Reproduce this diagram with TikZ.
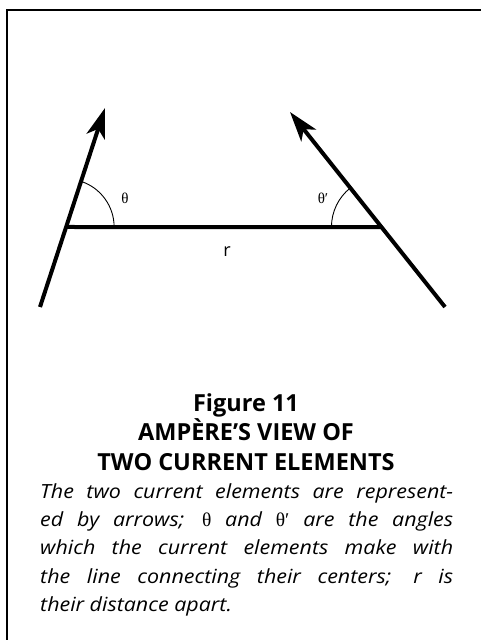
\documentclass[tikz,border=0pt]{standalone}
\usepackage{fontspec}
\setmainfont{Open Sans}
\newfontfamily\bodyfont[FakeStretch=1.1]{Open Sans}
\newfontfamily\grk{Liberation Serif}
\usetikzlibrary{arrows.meta,calc}
\tikzset{
  elem/.style={line width=4pt,-{Stealth[length=30pt,width=19pt,inset=8pt]}},
  rline/.style={line width=4pt},
  anglearc/.style={line width=0.9pt},
  caplabel/.style={anchor=base,inner sep=0pt,font=\bfseries\fontsize{23.5}{28}\selectfont},
  bodyline/.style={anchor=base west,inner sep=0pt,font=\bodyfont\itshape\fontsize{19.5}{28}\selectfont},
  glabel/.style={inner sep=0pt,font=\grk\fontsize{15}{18}\selectfont},
}
\begin{document}
\begin{tikzpicture}[x=1pt,y=1pt]
\useasboundingbox (0,0) rectangle (481,640);
\clip (0,0) rectangle (481,640);
\draw[line width=2.2pt] (7,630) rectangle (530,-30);

\coordinate (b1) at (40,333);
\coordinate (t1) at (105,532);
\coordinate (J1) at ($(b1)!0.402!(t1)$);
\coordinate (b2) at (445,333);
\coordinate (t2) at (290,528);
\coordinate (J2) at ($(b2)!0.41!(t2)$);

\draw[elem] (b1) -- (t1);
\draw[elem] (b2) -- (t2);
\draw[rline] (J1) -- (J2);
\draw[anglearc] ($(J1)+(48,0)$) arc[start angle=0,end angle=71.9,radius=48];
\draw[anglearc] ($(J2)+(-50,0)$) arc[start angle=180,end angle=128.5,radius=50];

\node[glabel] (th) at (125,442) {θ};
\node[glabel] (thp) at (323,442) {θ′};
\node[inner sep=0pt,font=\fontsize{18}{20}\selectfont] (r) at (227,388) {r};

\node[caplabel] (c1) at (246,228) {Figure 11};
\node[caplabel] (c2) at (246,199) {AMPÈRE’S VIEW OF};
\node[caplabel] (c3) at (246,169) {TWO CURRENT ELEMENTS};

\node[bodyline] (l1) at (40,141) {\makebox[413pt][s]{The two current elements are represent-}};
\node[bodyline] (l2) at (40,113) {\makebox[413pt][s]{ed by arrows; {\upshape\grk θ} and {\upshape\grk θ′} are the angles}};
\node[bodyline] (l3) at (40,85) {\makebox[413pt][s]{which the current elements make with}};
\node[bodyline] (l4) at (40,56) {\makebox[413pt][s]{the line connecting their centers; r is}};
\node[bodyline] (l5) at (40,28) {their distance apart.};
\end{tikzpicture}
\end{document}
